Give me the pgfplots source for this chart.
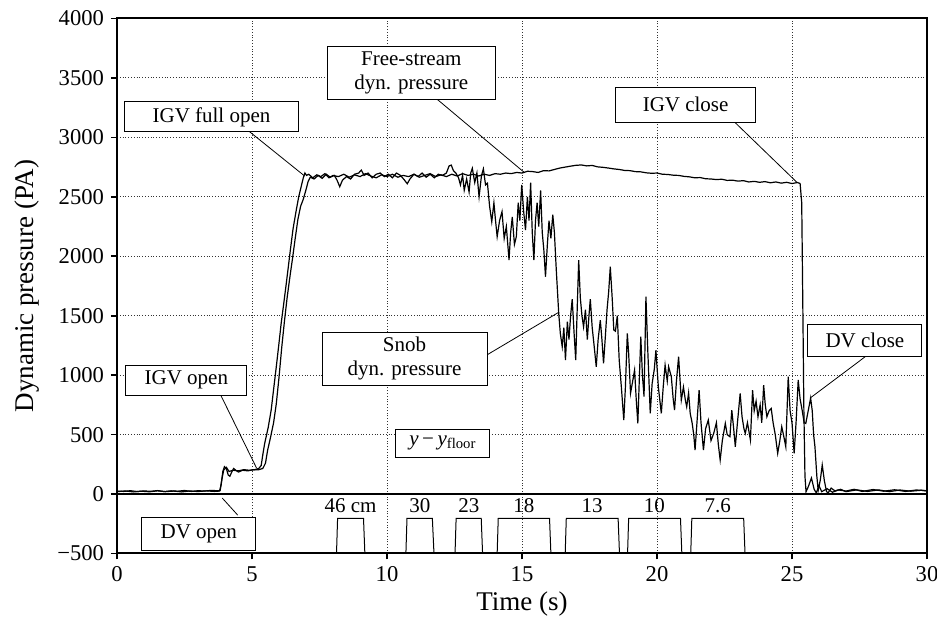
\documentclass[border=0pt]{standalone}
\usepackage{fontspec}
\setmainfont{Liberation Serif}
\usepackage{pgfplots}
\pgfplotsset{compat=1.18}
\tikzset{box/.style={draw, fill=white, line width=0.5pt, align=center, inner sep=0pt,
    font=\fontsize{10.5}{12.2}\selectfont}}

\begin{document}
\begin{tikzpicture}
\begin{axis}[
  scale only axis,
  width=405pt, height=267.5pt,
  xmin=0, xmax=30, ymin=-500, ymax=4000,
  xtick={0,5,10,15,20,25,30},
  xticklabels={0,5,10,15,20,25,30},
  ytick={-500,0,500,1000,1500,2000,2500,3000,3500,4000},
  yticklabels={−500,0,500,1000,1500,2000,2500,3000,3500,4000},
  tick pos=left, tick align=outside, major tick length=3pt,
  tick style={black, line width=0.8pt},
  ticklabel style={font=\fontsize{11.3}{13}\selectfont},
  axis line style={line width=1pt},
  grid=major,
  major grid style={densely dotted, black!80, line width=0.45pt},
  xlabel={Time (s)}, ylabel={Dynamic pressure (PA)},
  every axis x label/.style={at={(axis description cs:0.5,-0.0935)}, anchor=center, font=\fontsize{13.5}{16}\selectfont},
  every axis y label/.style={at={(axis description cs:-0.1105,0.5)}, rotate=90, anchor=center, font=\fontsize{13.5}{16}\selectfont},
  clip mode=individual,
]
\coordinate (SW) at (rel axis cs:0,0);
\coordinate (NE) at (rel axis cs:1,1);

% zero line
\addplot[black, line width=0.6pt] coordinates {(0,0) (30,0)};

% Free-stream dynamic pressure
\addplot[black, line width=0.6pt] coordinates {
(0,25)(0.25,22)(0.5,28)(0.75,21)(1,26)(1.25,23)(1.5,29)(1.75,21)(2,27)(2.25,24)(2.5,30)(2.75,22)(3,28)(3.25,25)(3.5,31)(3.75,27)(3.82,30)(3.88,120)(3.95,200)(4.05,225)(4.15,190)(4.3,200)(4.5,195)(4.7,205)(4.9,200)(5.1,205)(5.25,215)(5.34,240)(5.4,330)(5.47,426)(5.6,560)(5.71,706)(5.8,880)(5.9,1071)(6.0,1270)(6.08,1435)(6.18,1610)(6.27,1772)(6.35,1920)(6.42,2052)(6.52,2230)(6.64,2389)(6.73,2500)(6.82,2585)(6.9,2660)(6.96,2700)(7.02,2680)(7.1,2690)(7.25,2660)(7.4,2685)(7.55,2670)(7.7,2695)(7.85,2660)(8.0,2680)(8.2,2670)(8.4,2690)(8.6,2665)(8.8,2685)(9.0,2670)(9.2,2695)(9.4,2675)(9.6,2660)(9.8,2685)(10.0,2670)(10.2,2690)(10.4,2665)(10.6,2680)(10.8,2670)(11.0,2690)(11.2,2665)(11.4,2680)(11.6,2695)(11.8,2670)(12.0,2685)(12.2,2670)(12.4,2690)(12.6,2675)(12.8,2695)(13.0,2680)(13.2,2690)(13.4,2675)(13.6,2690)(13.8,2680)(14.0,2695)(14.2,2690)(14.4,2700)(14.6,2695)(14.8,2705)(15.0,2700)(15.2,2715)(15.4,2712)(15.6,2705)(15.8,2720)(16.0,2718)(16.2,2730)(16.4,2742)(16.6,2750)(16.8,2758)(17.0,2765)(17.2,2768)(17.4,2760)(17.6,2764)(17.8,2752)(18.0,2748)(18.2,2742)(18.4,2735)(18.6,2730)(18.8,2722)(19.0,2720)(19.2,2712)(19.4,2710)(19.6,2702)(19.8,2698)(20.0,2700)(20.2,2690)(20.4,2688)(20.6,2682)(20.8,2680)(21.0,2672)(21.2,2668)(21.4,2660)(21.6,2662)(21.8,2652)(22.0,2650)(22.2,2645)(22.4,2648)(22.6,2638)(22.8,2640)(23.0,2632)(23.2,2636)(23.4,2625)(23.6,2630)(23.8,2622)(24.0,2628)(24.2,2618)(24.4,2625)(24.6,2615)(24.8,2622)(25.0,2612)(25.2,2620)(25.3,2612)(25.36,2450)(25.4,1600)(25.44,700)(25.48,150)(25.52,20)(25.6,60)(25.72,135)(25.82,40)(25.9,10)(26.0,70)(26.1,20)(26.3,45)(26.5,15)(26.7,35)(27,25)(27.3,40)(27.6,22)(28,38)(28.4,24)(28.8,36)(29.2,22)(29.6,34)(30,28)
};

% Snob dynamic pressure
\addplot[black, line width=0.6pt] coordinates {
(0,20)(0.3,26)(0.6,18)(0.9,24)(1.2,19)(1.5,27)(1.8,20)(2.1,25)(2.4,18)(2.7,26)(3.0,21)(3.3,27)(3.6,22)(3.8,25)(3.86,80)(3.92,190)(3.98,230)(4.05,215)(4.12,160)(4.18,150)(4.25,185)(4.32,215)(4.4,200)(4.5,185)(4.65,200)(4.85,195)(5.05,205)(5.25,205)(5.4,215)(5.5,260)(5.58,370)(5.68,470)(5.8,600)(5.9,760)(6.0,980)(6.1,1230)(6.2,1450)(6.3,1650)(6.4,1820)(6.5,1980)(6.6,2150)(6.7,2310)(6.8,2420)(6.9,2480)(7.0,2560)(7.08,2630)(7.16,2665)(7.3,2650)(7.45,2680)(7.6,2655)(7.75,2690)(7.9,2665)(8.05,2680)(8.15,2640)(8.25,2585)(8.35,2640)(8.5,2670)(8.65,2650)(8.8,2690)(8.95,2700)(9.05,2725)(9.15,2680)(9.3,2700)(9.45,2660)(9.6,2690)(9.75,2700)(9.9,2670)(10.05,2690)(10.2,2660)(10.35,2700)(10.5,2680)(10.65,2640)(10.75,2610)(10.85,2650)(11.0,2690)(11.15,2670)(11.3,2700)(11.45,2665)(11.6,2690)(11.75,2660)(11.9,2690)(12.05,2680)(12.2,2700)(12.3,2760)(12.38,2767)(12.46,2720)(12.55,2700)(12.65,2660)(12.72,2600)(12.8,2680)(12.86,2555)(12.95,2650)(13.04,2540)(13.1,2700)(13.16,2740)(13.25,2620)(13.33,2700)(13.41,2500)(13.5,2680)(13.57,2735)(13.65,2600)(13.72,2615)(13.8,2420)(13.88,2290)(13.96,2450)(14.02,2300)(14.08,2165)(14.17,2300)(14.26,2375)(14.34,2150)(14.42,2250)(14.52,1968)(14.58,2200)(14.64,2330)(14.72,2100)(14.79,2165)(14.86,2450)(14.92,2300)(14.99,2600)(15.06,2380)(15.13,2220)(15.2,2500)(15.26,2300)(15.32,2620)(15.38,2200)(15.44,1968)(15.5,2300)(15.56,2450)(15.62,2250)(15.69,2555)(15.75,2200)(15.81,2050)(15.87,1828)(15.94,2100)(16.0,2300)(16.07,2150)(16.14,2350)(16.2,2200)(16.27,1884)(16.36,1520)(16.42,1350)(16.49,1239)(16.55,1400)(16.61,1127)(16.68,1450)(16.74,1300)(16.8,1500)(16.86,1640)(16.93,1350)(16.99,1127)(17.05,1600)(17.1,1968)(17.16,1650)(17.22,1500)(17.28,1407)(17.35,1550)(17.42,1300)(17.48,1500)(17.53,1640)(17.6,1400)(17.67,1250)(17.75,1071)(17.82,1300)(17.9,1463)(17.96,1300)(18.02,1099)(18.08,1300)(18.15,1550)(18.21,1700)(18.27,1912)(18.34,1650)(18.4,1380)(18.46,1370)(18.53,1500)(18.6,1127)(18.68,900)(18.77,622)(18.83,900)(18.9,1352)(18.95,1183)(19.02,848)(19.1,950)(19.17,1043)(19.23,800)(19.29,594)(19.35,1000)(19.4,1324)(19.46,1000)(19.52,820)(19.59,1660)(19.66,1200)(19.75,678)(19.82,930)(19.9,1050)(19.96,1210)(20.05,900)(20.16,678)(20.23,900)(20.3,1085)(20.38,950)(20.43,1071)(20.53,987)(20.6,800)(20.65,706)(20.72,950)(20.8,1155)(20.9,790)(20.98,900)(21.05,790)(21.1,734)(21.17,850)(21.23,678)(21.3,600)(21.36,500)(21.41,370)(21.48,600)(21.56,874)(21.63,600)(21.72,370)(21.8,550)(21.9,622)(22.0,450)(22.1,510)(22.2,600)(22.27,420)(22.34,286)(22.42,450)(22.53,594)(22.6,500)(22.7,482)(22.77,706)(22.84,550)(22.9,398)(22.98,600)(23.08,846)(23.15,650)(23.22,550)(23.27,510)(23.35,600)(23.46,454)(23.54,874)(23.6,700)(23.67,780)(23.74,650)(23.82,750)(23.88,600)(23.95,916)(24.01,750)(24.07,650)(24.15,700)(24.23,720)(24.3,600)(24.38,500)(24.47,342)(24.55,450)(24.62,566)(24.7,480)(24.77,398)(24.86,987)(24.93,700)(25.0,600)(25.08,342)(25.15,600)(25.23,959)(25.3,800)(25.38,700)(25.45,600)(25.51,594)(25.6,700)(25.69,807)(25.75,700)(25.8,500)(25.85,398)(25.92,150)(25.97,30)(26.05,120)(26.12,244)(26.2,110)(26.28,20)(26.34,10)(26.45,50)(26.6,25)(26.8,40)(27,20)(27.4,35)(27.8,22)(28.2,35)(28.6,20)(29,34)(29.4,24)(29.8,32)(30,25)
};

% screen pulses
\addplot[black, line width=0.5pt] coordinates {(8.13,-500)(8.17,-205)(9.13,-205)(9.18,-500)};
\addplot[black, line width=0.5pt] coordinates {(10.70,-500)(10.74,-205)(11.68,-205)(11.74,-500)};
\addplot[black, line width=0.5pt] coordinates {(12.52,-500)(12.56,-205)(13.49,-205)(13.54,-500)};
\addplot[black, line width=0.5pt] coordinates {(14.08,-500)(14.12,-205)(16.02,-205)(16.07,-500)};
\addplot[black, line width=0.5pt] coordinates {(16.60,-500)(16.64,-205)(18.56,-205)(18.61,-500)};
\addplot[black, line width=0.5pt] coordinates {(18.91,-500)(18.95,-205)(20.87,-205)(20.92,-500)};
\addplot[black, line width=0.5pt] coordinates {(21.25,-500)(21.29,-205)(23.21,-205)(23.26,-500)};

\begin{scope}[font=\fontsize{10.5}{12}\selectfont]
\node at (axis cs:8.65,-95) {46 cm};
\node at (axis cs:11.22,-95) {30};
\node at (axis cs:13.03,-95) {23};
\node at (axis cs:15.07,-95) {18};
\node at (axis cs:17.6,-95) {13};
\node at (axis cs:19.9,-95) {10};
\node at (axis cs:22.25,-95) {7.6};
\end{scope}

% leader lines
\draw[line width=0.4pt] (axis cs:4.65,3095) -- (axis cs:6.95,2675);
\draw[line width=0.4pt] (axis cs:11.86,3320) -- (axis cs:15.07,2708);
\draw[line width=0.4pt] (axis cs:22.9,3123) -- (axis cs:25.2,2618);
\draw[line width=0.4pt] (axis cs:27.74,1160) -- (axis cs:25.67,807);
\draw[line width=0.4pt] (axis cs:13.7,1170) -- (axis cs:16.37,1530);
\draw[line width=0.4pt] (axis cs:3.84,833) -- (axis cs:5.17,218);
\draw[line width=0.4pt] (axis cs:4.47,-177) -- (axis cs:3.9,-34);

% annotation boxes
\node[box, minimum width=86.5pt, minimum height=15pt] at (axis cs:3.5,3172) {IGV full open};
\node[box, minimum width=84pt, minimum height=26.5pt] at (axis cs:10.9,3540) {Free-stream\\dyn. pressure};
\node[box, minimum width=70pt, minimum height=17.5pt] at (axis cs:21.06,3274) {IGV close};
\node[box, minimum width=57pt, minimum height=16pt] at (axis cs:27.7,1295) {DV close};
\node[box, minimum width=82.5pt, minimum height=26.5pt] at (axis cs:10.65,1140) {Snob\\dyn. pressure};
\node[box, minimum width=60.5pt, minimum height=15pt] at (axis cs:2.57,959) {IGV open};
\node[box, minimum width=47pt, minimum height=14pt] at (axis cs:12.07,429) {\textit{y}\,−\,\textit{y}\textsubscript{floor}};
\node[box, minimum width=57pt, minimum height=16.5pt] at (axis cs:3.03,-332) {DV open};
\end{axis}
\pgfresetboundingbox
\path ([xshift=-58.5pt,yshift=-34.75pt]SW) rectangle ([xshift=5pt,yshift=9.25pt]NE);
\end{tikzpicture}
\end{document}
